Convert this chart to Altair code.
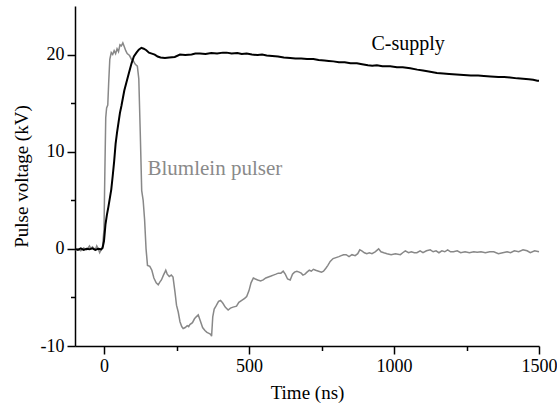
import altair as alt
import pandas as pd

# Blumlein pulser trace (time ns, voltage kV)
blum_t = [-100, -90, -80, -70, -60, -50, -45, -40, -30, -25, -20, -15, -10, -5,
          0, 3, 6, 9, 13, 16, 20, 25, 30, 35, 40, 45, 50, 55, 60, 65, 70, 75, 80, 88,
          95, 100, 108, 115, 120, 125, 130, 135, 140, 145, 150, 158, 165, 172, 180,
          187, 193, 198, 205, 210, 213, 218, 225, 232, 238, 245, 250, 256, 262, 268,
          273, 280, 287, 292, 296, 305, 312, 318, 325, 332, 340, 348, 355, 362, 368,
          371, 375, 380, 386, 395, 402, 410, 418, 428, 436, 445, 457, 465, 475, 485,
          492, 500, 507, 515, 522, 530, 540, 549, 558, 567, 576, 584, 593, 601, 610,
          618, 625, 633, 642, 650, 657, 665, 673, 680, 686, 693, 700, 708, 715, 722,
          730, 740, 750, 757, 765, 772, 780, 790, 800, 810, 818, 826, 835, 845, 855,
          866, 875, 882, 889, 898, 906, 915, 924, 935, 947, 955, 965, 976, 990, 1005,
          1022, 1030, 1039, 1050, 1060, 1070, 1079, 1090, 1100, 1112, 1125, 1135, 1145,
          1155, 1165, 1175, 1185, 1195, 1205, 1218, 1230, 1245, 1260, 1275, 1287, 1300,
          1315, 1330, 1344, 1360, 1375, 1390, 1402, 1415, 1430, 1445, 1459, 1470, 1485,
          1500]
blum_v = [-0.1, 0.0, -0.2, 0.1, -0.1, 0.3, 0.0, 0.2, -0.1, 0.3, 0.0, -0.4, -0.1, 0.2,
          2.0, 8.0, 13.5, 14.5, 14.8, 17.0, 19.5, 20.2, 20.0, 20.4, 20.1, 20.6, 20.3, 21.0,
          20.9, 21.2, 20.8, 20.4, 20.1, 19.9, 19.5, 19.4, 19.0, 18.8, 17.5, 12.0, 6.0, 5.0,
          3.0, 0.0, -1.7, -1.8, -2.2, -3.0, -3.5, -3.7, -3.4, -3.2, -2.7, -2.4, -2.2, -2.6,
          -2.85, -2.7, -2.9, -4.5, -5.8, -6.5, -7.5, -8.0, -8.2, -8.1, -7.9, -8.0, -7.8,
          -7.6, -7.2, -7.0, -6.8, -7.4, -8.1, -8.4, -8.6, -8.7, -8.8, -9.0, -7.0, -6.2,
          -5.9, -5.4, -5.3, -5.6, -6.0, -6.3, -6.1, -6.0, -5.9, -5.5, -5.3, -5.1, -4.9,
          -4.3, -3.5, -3.0, -3.1, -3.2, -3.3, -3.2, -3.0, -2.9, -2.8, -2.7, -2.6, -2.5,
          -2.5, -2.3, -2.6, -3.1, -3.2, -2.6, -2.4, -2.3, -2.4, -2.5, -2.7, -2.6, -2.4,
          -2.2, -2.3, -2.1, -2.2, -2.3, -2.4, -2.3, -2.0, -1.7, -1.3, -1.0, -0.9, -0.8,
          -0.7, -0.6, -0.6, -0.8, -0.6, -0.7, -0.5, -0.1, -0.2, -0.4, -0.5, -0.4, -0.5,
          -0.3, 0.0, -0.3, -0.4, -0.5, -0.6, -0.5, -0.6, -0.4, -0.2, -0.4, -0.3, -0.4,
          -0.4, -0.2, -0.4, -0.2, -0.1, -0.3, -0.2, -0.4, -0.2, -0.3, -0.1, -0.3, -0.3,
          -0.2, -0.4, -0.3, -0.4, -0.3, -0.35, -0.3, -0.4, -0.3, -0.3, -0.5, -0.4, -0.3,
          -0.4, -0.2, -0.3, -0.1, -0.2, -0.4, -0.2, -0.3]

# C-supply trace (time ns, voltage kV)
csup_t = [-100, -90, -80, -70, -60, -50, -40, -30, -20, -10, -5, 0, 5, 10, 15, 20, 25,
          30, 35, 40, 45, 50, 55, 60, 65, 70, 77, 85, 95, 103, 112, 120, 129, 137, 146,
          155, 165, 175, 185, 195, 210, 225, 244, 262, 280, 302, 315, 331, 350, 370,
          390, 410, 423, 440, 460, 475, 492, 510, 530, 545, 561, 580, 600, 620, 642,
          660, 680, 700, 722, 740, 760, 775, 791, 810, 830, 850, 872, 890, 910, 925,
          941, 960, 987, 1010, 1030, 1056, 1080, 1100, 1120, 1148, 1170, 1190, 1215,
          1240, 1265, 1290, 1310, 1333, 1360, 1380, 1400, 1425, 1445, 1465, 1480, 1494,
          1500]
csup_v = [0.0, -0.1, 0.05, -0.1, 0.0, -0.05, 0.05, -0.1, 0.0, -0.05, 0.1, 0.8, 2.5,
          3.5, 4.3, 5.2, 6.1, 7.5, 9.0, 10.8, 12.0, 13.0, 14.0, 14.7, 15.5, 16.3, 17.1,
          18.0, 19.1, 19.8, 20.2, 20.5, 20.7, 20.6, 20.45, 20.2, 20.1, 20.0, 19.8, 19.7,
          19.65, 19.7, 19.75, 20.0, 19.95, 20.0, 20.1, 20.1, 20.05, 20.15, 20.1, 20.2,
          20.2, 20.1, 20.15, 20.05, 20.1, 20.0, 19.95, 20.0, 19.9, 19.85, 19.8, 19.7,
          19.65, 19.6, 19.6, 19.55, 19.55, 19.45, 19.4, 19.35, 19.3, 19.2, 19.2, 19.1,
          19.1, 19.0, 18.9, 18.85, 18.9, 18.8, 18.8, 18.7, 18.7, 18.6, 18.45, 18.35,
          18.25, 18.1, 18.05, 18.0, 17.95, 17.9, 17.85, 17.85, 17.8, 17.75, 17.7, 17.7,
          17.65, 17.55, 17.5, 17.45, 17.4, 17.3, 17.3]

# Annotation labels (data coordinates)
label_text = ["C-supply", "Blumlein pulser"]
label_t = [922, 150]
label_v = [20.5, 7.6]
label_color = ["#000000", "#8a8a8a"]
label_size = [20, 21]

x_major = [0, 500, 1000, 1500]
x_minor = [250, 750, 1250]
y_major = [-10, 0, 10, 20]
y_minor = [-5, 5, 15]

blum = pd.DataFrame({"t": blum_t, "v": blum_v})
csup = pd.DataFrame({"t": csup_t, "v": csup_v})

FONT = "Liberation Serif"

xscale = alt.Scale(domain=[-100, 1500], nice=False, zero=False)
yscale = alt.Scale(domain=[-10, 25], nice=False, zero=False)

common = dict(
    grid=False, domainColor="black", tickColor="black", domainWidth=1.5, tickWidth=1.5,
    labelFont=FONT, titleFont=FONT, labelFontSize=18, titleFontSize=19,
    labelColor="black", titleColor="black", titleFontWeight="normal", labelFlush=False,
)

xaxis = alt.Axis(values=x_major, labelExpr="'' + datum.value", tickSize=8,
                 title="Time (ns)", labelPadding=3, titlePadding=8, **common)
yaxis = alt.Axis(values=y_major, labelExpr="'' + datum.value", tickSize=8,
                 title="Pulse voltage (kV)", labelPadding=3, titlePadding=9, **common)
xaxis_minor = alt.Axis(values=x_minor, labels=False, tickSize=4.5, title=None, orient="bottom",
                       domain=False, grid=False, tickColor="black", tickWidth=1.5)
yaxis_minor = alt.Axis(values=y_minor, labels=False, tickSize=4.5, title=None, orient="left",
                       domain=False, grid=False, tickColor="black", tickWidth=1.5)

gray = alt.Chart(blum).mark_line(color="#888888", strokeWidth=1.5).encode(
    x=alt.X("t:Q", scale=xscale, axis=xaxis),
    y=alt.Y("v:Q", scale=yscale, axis=yaxis),
)
black = alt.Chart(csup).mark_line(color="black", strokeWidth=2).encode(
    x=alt.X("t:Q", scale=xscale, axis=xaxis_minor),
    y=alt.Y("v:Q", scale=yscale, axis=yaxis_minor),
)

texts = []
for i in range(len(label_text)):
    df = pd.DataFrame({"t": [label_t[i]], "v": [label_v[i]], "text": [label_text[i]]})
    texts.append(
        alt.Chart(df).mark_text(font=FONT, fontSize=label_size[i], align="left",
                                baseline="alphabetic", color=label_color[i]).encode(
            x=alt.X("t:Q", scale=xscale, axis=None),
            y=alt.Y("v:Q", scale=yscale, axis=None),
            text="text:N",
        )
    )

chart = alt.layer(gray, black, *texts).resolve_axis(x="independent", y="independent").properties(
    width=464, height=340,
    padding={"left": 75, "top": 6, "right": 18, "bottom": 57},
    autosize=alt.AutoSizeParams(type="none"),
    background="white",
).configure_view(strokeWidth=0)

chart.save("out.html", embed_options={"renderer": "svg", "actions": False})
